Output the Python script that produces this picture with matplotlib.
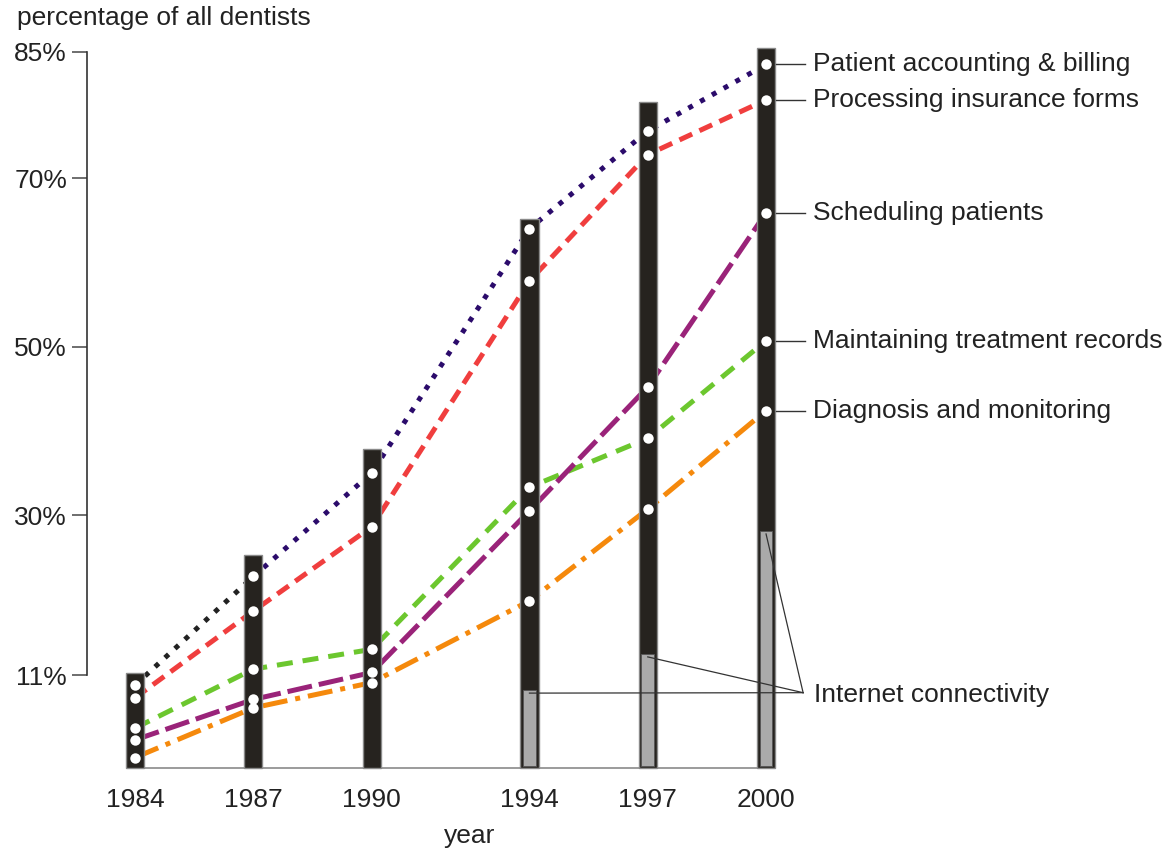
import numpy as np
import matplotlib
matplotlib.use("Agg")
import matplotlib.pyplot as plt

plt.rcParams["font.family"] = ["Liberation Sans", "DejaVu Sans"]

years = [1984, 1987, 1990, 1994, 1997, 2000]
bar_tops = [11.2, 25.25, 37.8, 65.2, 79.1, 85.4]
internet_years = [1994, 1997, 2000]
internet = [9.2, 13.5, 28.1]

accounting = [9.8, 22.7, 35.0, 64.0, 75.6, 83.5]
insurance = [8.3, 18.6, 28.6, 57.8, 72.8, 79.3]
scheduling = [3.3, 8.1, 11.3, 30.5, 45.2, 65.9]
records = [4.7, 11.7, 14.05, 33.3, 39.1, 50.7]
diagnosis = [1.2, 7.1, 10.1, 19.8, 30.7, 42.4]

y_ticks = [11, 30, 50, 70, 85]
y_ticklabels = ["11%", "30%", "50%", "70%", "85%"]

txt = "#222222"
fs = 19

fig = plt.figure(figsize=(11.65, 8.5), dpi=100)
ax = fig.add_axes([0.0747, 0.0969, 0.6167, 0.8718])
ax.set_xlim(1982.78, 2001.0)
ax.set_ylim(0, 88)

# lines (behind the bars)
lw = 3.6
ax.plot(years[:2], accounting[:2], color="#222222", lw=lw,
        linestyle=(0, (1, 1.7)), zorder=2)
ax.plot(years[1:], accounting[1:], color="#2b0b6b", lw=lw,
        linestyle=(0, (1, 1.7)), zorder=2)
ax.plot(years, insurance, color="#f03e3e", lw=lw,
        linestyle=(0, (2.8, 1.6)), zorder=2)
ax.plot(years, records, color="#6cc72e", lw=lw,
        linestyle=(0, (3.2, 2.0)), zorder=2)
ax.plot(years, scheduling, color="#9a2379", lw=lw,
        linestyle=(0, (5.0, 1.4)), zorder=2)
ax.plot(years, diagnosis, color="#f5890c", lw=lw,
        linestyle=(0, (5.0, 1.6, 1, 1.6)), zorder=2)

# bars
ax.bar(years, bar_tops, width=0.46, color="#26231f", edgecolor="#8a8a8a",
       linewidth=1, zorder=3, clip_on=False)
ax.bar(internet_years, np.array(internet) - 0.15, bottom=0.15, width=0.32,
       color="#aaaaaa", edgecolor="#555555", linewidth=0.6, zorder=3)

# dots
for s in [accounting, insurance, scheduling, records, diagnosis]:
    ax.plot(years, s, "o", color="white", ms=7.5, mec="none", zorder=4)

# baseline
ax.plot([years[0], years[-1]], [0, 0], color="#8a8a8a", lw=1.2, zorder=1,
        clip_on=False)

# right-hand labels
labels = ["Patient accounting & billing", "Processing insurance forms",
          "Scheduling patients", "Maintaining treatment records",
          "Diagnosis and monitoring"]
for s, lab in zip([accounting, insurance, scheduling, records, diagnosis], labels):
    ax.plot([2000.24, 2000.98], [s[-1], s[-1]], color="#333333", lw=1,
            zorder=5, clip_on=False)
    ax.text(2001.19, s[-1], lab, fontsize=fs, color=txt, va="center",
            ha="left", clip_on=False)

# internet connectivity leaders
conv = (2000.94, 8.9)
for yr, v in zip(internet_years, internet):
    ax.plot([yr, conv[0]], [v - 0.35, conv[1]], color="#333333", lw=0.9,
            zorder=5, clip_on=False)
ax.text(2001.22, 8.6, "Internet connectivity", fontsize=fs, color=txt,
        va="center", ha="left", clip_on=False)

# axes styling
for side in ["top", "right", "bottom"]:
    ax.spines[side].set_visible(False)
ax.spines["left"].set_bounds(11, 85)
ax.spines["left"].set_color("#333333")
ax.spines["left"].set_linewidth(1.2)

ax.set_yticks(y_ticks)
ax.set_yticklabels(y_ticklabels)
ax.tick_params(axis="y", length=10.8, width=1.2, color="#555555", pad=3.6,
               labelsize=fs, labelcolor=txt)
ax.set_xticks(years)
ax.set_xticklabels([str(y) for y in years])
ax.tick_params(axis="x", length=0, pad=15, labelsize=fs, labelcolor=txt)

ax.text(0.533, -0.092, "year", transform=ax.transAxes, fontsize=fs,
        color=txt, ha="center", va="center")
fig.text(17 / 1165, 1 - 18 / 850, "percentage of all dentists", fontsize=fs,
         color=txt, ha="left", va="center")

fig.savefig("out.png", dpi=100, facecolor="white")
